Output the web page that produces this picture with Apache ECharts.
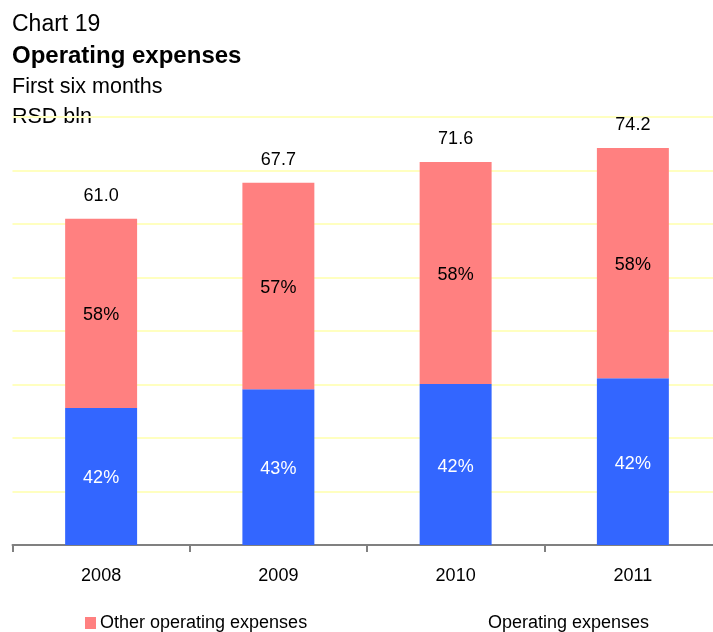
<!DOCTYPE html>
<html>
<head>
<meta charset="utf-8">
<script src="https://cdn.jsdelivr.net/npm/echarts@6/dist/echarts.min.js"></script>
<style>
  html, body { margin: 0; padding: 0; background: #fff; overflow: hidden; }
  /* plot area runs slightly past the right edge of the window */
  #chart { width: 722px; height: 632px; }
</style>
</head>
<body>
<div id="chart"></div>
<script>
// Operating expenses, first six months, RSD bln
const categories = ['2008', '2009', '2010', '2011'];
const totals = [61.0, 67.7, 71.6, 74.2];
const staffShare = [42, 43, 42, 42];   // % of total (blue, bottom)
const otherShare = [58, 57, 58, 58];   // % of total (pink, top)

const staffValues = totals.map((t, i) => t * staffShare[i] / 100);
const otherValues = totals.map((t, i) => t - staffValues[i]);

const FONT = '"Liberation Sans", Arial, sans-serif';
const chart = echarts.init(document.getElementById('chart'));

chart.setOption({
  animation: false,
  textStyle: { fontFamily: FONT },
  graphic: [
    { type: 'text', left: 12, top: 13, style: { text: 'Chart 19', font: '23px ' + FONT, fill: '#000' } },
    { type: 'text', left: 12, top: 44, style: { text: 'Operating expenses', font: 'bold 24px ' + FONT, fill: '#000' } },
    { type: 'text', left: 12, top: 76, style: { text: 'First six months', font: '21.5px ' + FONT, fill: '#000' } },
    { type: 'text', left: 12, top: 106, style: { text: 'RSD bln', font: '21.5px ' + FONT, fill: '#000' } }
  ],
  legend: [
    {
      left: 80, top: 609,
      itemWidth: 11, itemHeight: 12, itemGap: 4,
      textStyle: { fontSize: 18, color: '#000', fontFamily: FONT, padding: [0, 0, 0, -1] },
      data: [{ name: 'Other operating expenses', icon: 'rect' }]
    },
    {
      left: 467, top: 609,
      itemWidth: 11, itemHeight: 12,
      textStyle: { fontSize: 18, color: '#000', fontFamily: FONT },
      data: [{ name: 'Operating expenses', icon: 'none' }]
    }
  ],
  grid: { left: 12.5, width: 709, top: 117, bottom: 87, containLabel: false },
  xAxis: {
    type: 'category',
    data: categories,
    boundaryGap: true,
    axisLine: { lineStyle: { color: '#808080', width: 2 } },
    axisTick: { show: true, length: 7, lineStyle: { color: '#808080', width: 2 } },
    axisLabel: { fontSize: 18, color: '#000', margin: 22, fontFamily: FONT }
  },
  yAxis: {
    type: 'value',
    min: 0, max: 80, interval: 10,
    axisLine: { show: false },
    axisTick: { show: false },
    axisLabel: { show: false },
    splitLine: { lineStyle: { color: '#FFFFC0', width: 2 } }
  },
  series: [
    {
      name: 'Staff costs',
      type: 'bar',
      stack: 'total',
      barWidth: '40.6%',
      itemStyle: { color: '#3366FF' },
      label: {
        show: true, position: 'inside', offset: [0, 2], fontSize: 18, color: '#fff', fontFamily: FONT,
        formatter: p => staffShare[p.dataIndex] + '%'
      },
      data: staffValues
    },
    {
      name: 'Other operating expenses',
      type: 'bar',
      stack: 'total',
      barWidth: '40.6%',
      itemStyle: { color: '#FF8080' },
      label: {
        show: true, position: 'inside', offset: [0, 2], fontSize: 18, color: '#000', fontFamily: FONT,
        formatter: p => otherShare[p.dataIndex] + '%'
      },
      data: otherValues
    },
    {
      // total per year, drawn only as a label above each stack
      name: 'Operating expenses',
      type: 'line',
      symbol: 'circle',
      symbolSize: 1,
      showSymbol: true,
      lineStyle: { opacity: 0 },
      itemStyle: { color: 'rgba(0,0,0,0)' },
      label: {
        show: true, position: 'top', distance: 13, fontSize: 18, color: '#000', fontFamily: FONT,
        formatter: p => totals[p.dataIndex].toFixed(1)
      },
      z: 5,
      data: totals
    }
  ]
});
</script>
</body>
</html>
